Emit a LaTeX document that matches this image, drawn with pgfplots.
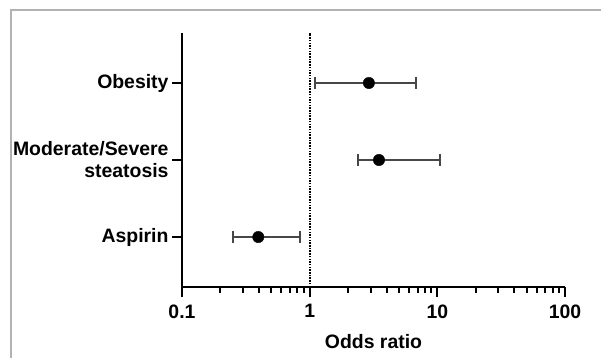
\documentclass[border=0pt]{standalone}
\usepackage{pgfplots}
\pgfplotsset{compat=1.18}
\usepackage{fontspec}
\setmainfont{Liberation Sans}
\begin{document}
\begin{tikzpicture}
\useasboundingbox (0bp,0bp) rectangle (601bp,358bp);
\begin{scope}
\clip (0bp,0bp) rectangle (601bp,358bp);
\draw[line width=2bp, color=black!30] (10.5bp,-20bp) rectangle (630bp,347.5bp);
\end{scope}
\begin{axis}[
  at={(182bp,71bp)}, anchor=south west,
  scale only axis, width=383bp, height=254bp,
  xmode=log, xmin=0.1, xmax=100, ymin=0.351, ymax=3.649,
  axis lines=left, axis line style={-, line width=2.3bp, black},
  tick align=outside,
  major tick length=10bp, minor tick length=5.5bp,
  every tick/.style={black, line width=2bp},
  xtick={0.1,1,10,100}, xticklabels={0.1,1,10,100},
  ytick={1,2,3},
  yticklabels={Aspirin,{Moderate/Severe\\steatosis},Obesity},
  minor ytick={},
  /pgf/number format/assume math mode=true,
  tick label style={font=\fontsize{19.5}{22}\selectfont\bfseries},
  yticklabel style={align=right},
  xticklabel style={yshift=-4bp},
  xlabel={Odds ratio},
  xlabel style={font=\fontsize{19.5}{22}\selectfont\bfseries, anchor=center, at={(axis description cs:0.5,0)}, yshift=-55bp},
  clip=false,
]
\addplot[black, line width=2.2bp, dash pattern=on 1.5bp off 1.2bp] coordinates {(1,0.351) (1,3.649)};
\pgfplotsset{errbar/.style={black!72, line width=1.8bp, mark=|, mark size=6bp, mark options={solid, line width=1.8bp}}}
\addplot[errbar] coordinates {(1.10,3) (6.8,3)};
\addplot[errbar] coordinates {(2.40,2) (10.5,2)};
\addplot[errbar] coordinates {(0.252,1) (0.84,1)};
\addplot[only marks, mark=*, mark size=5.7bp, black] coordinates {
(2.91,3)
(3.49,2)
(0.396,1)
};
\end{axis}
\end{tikzpicture}
\end{document}
